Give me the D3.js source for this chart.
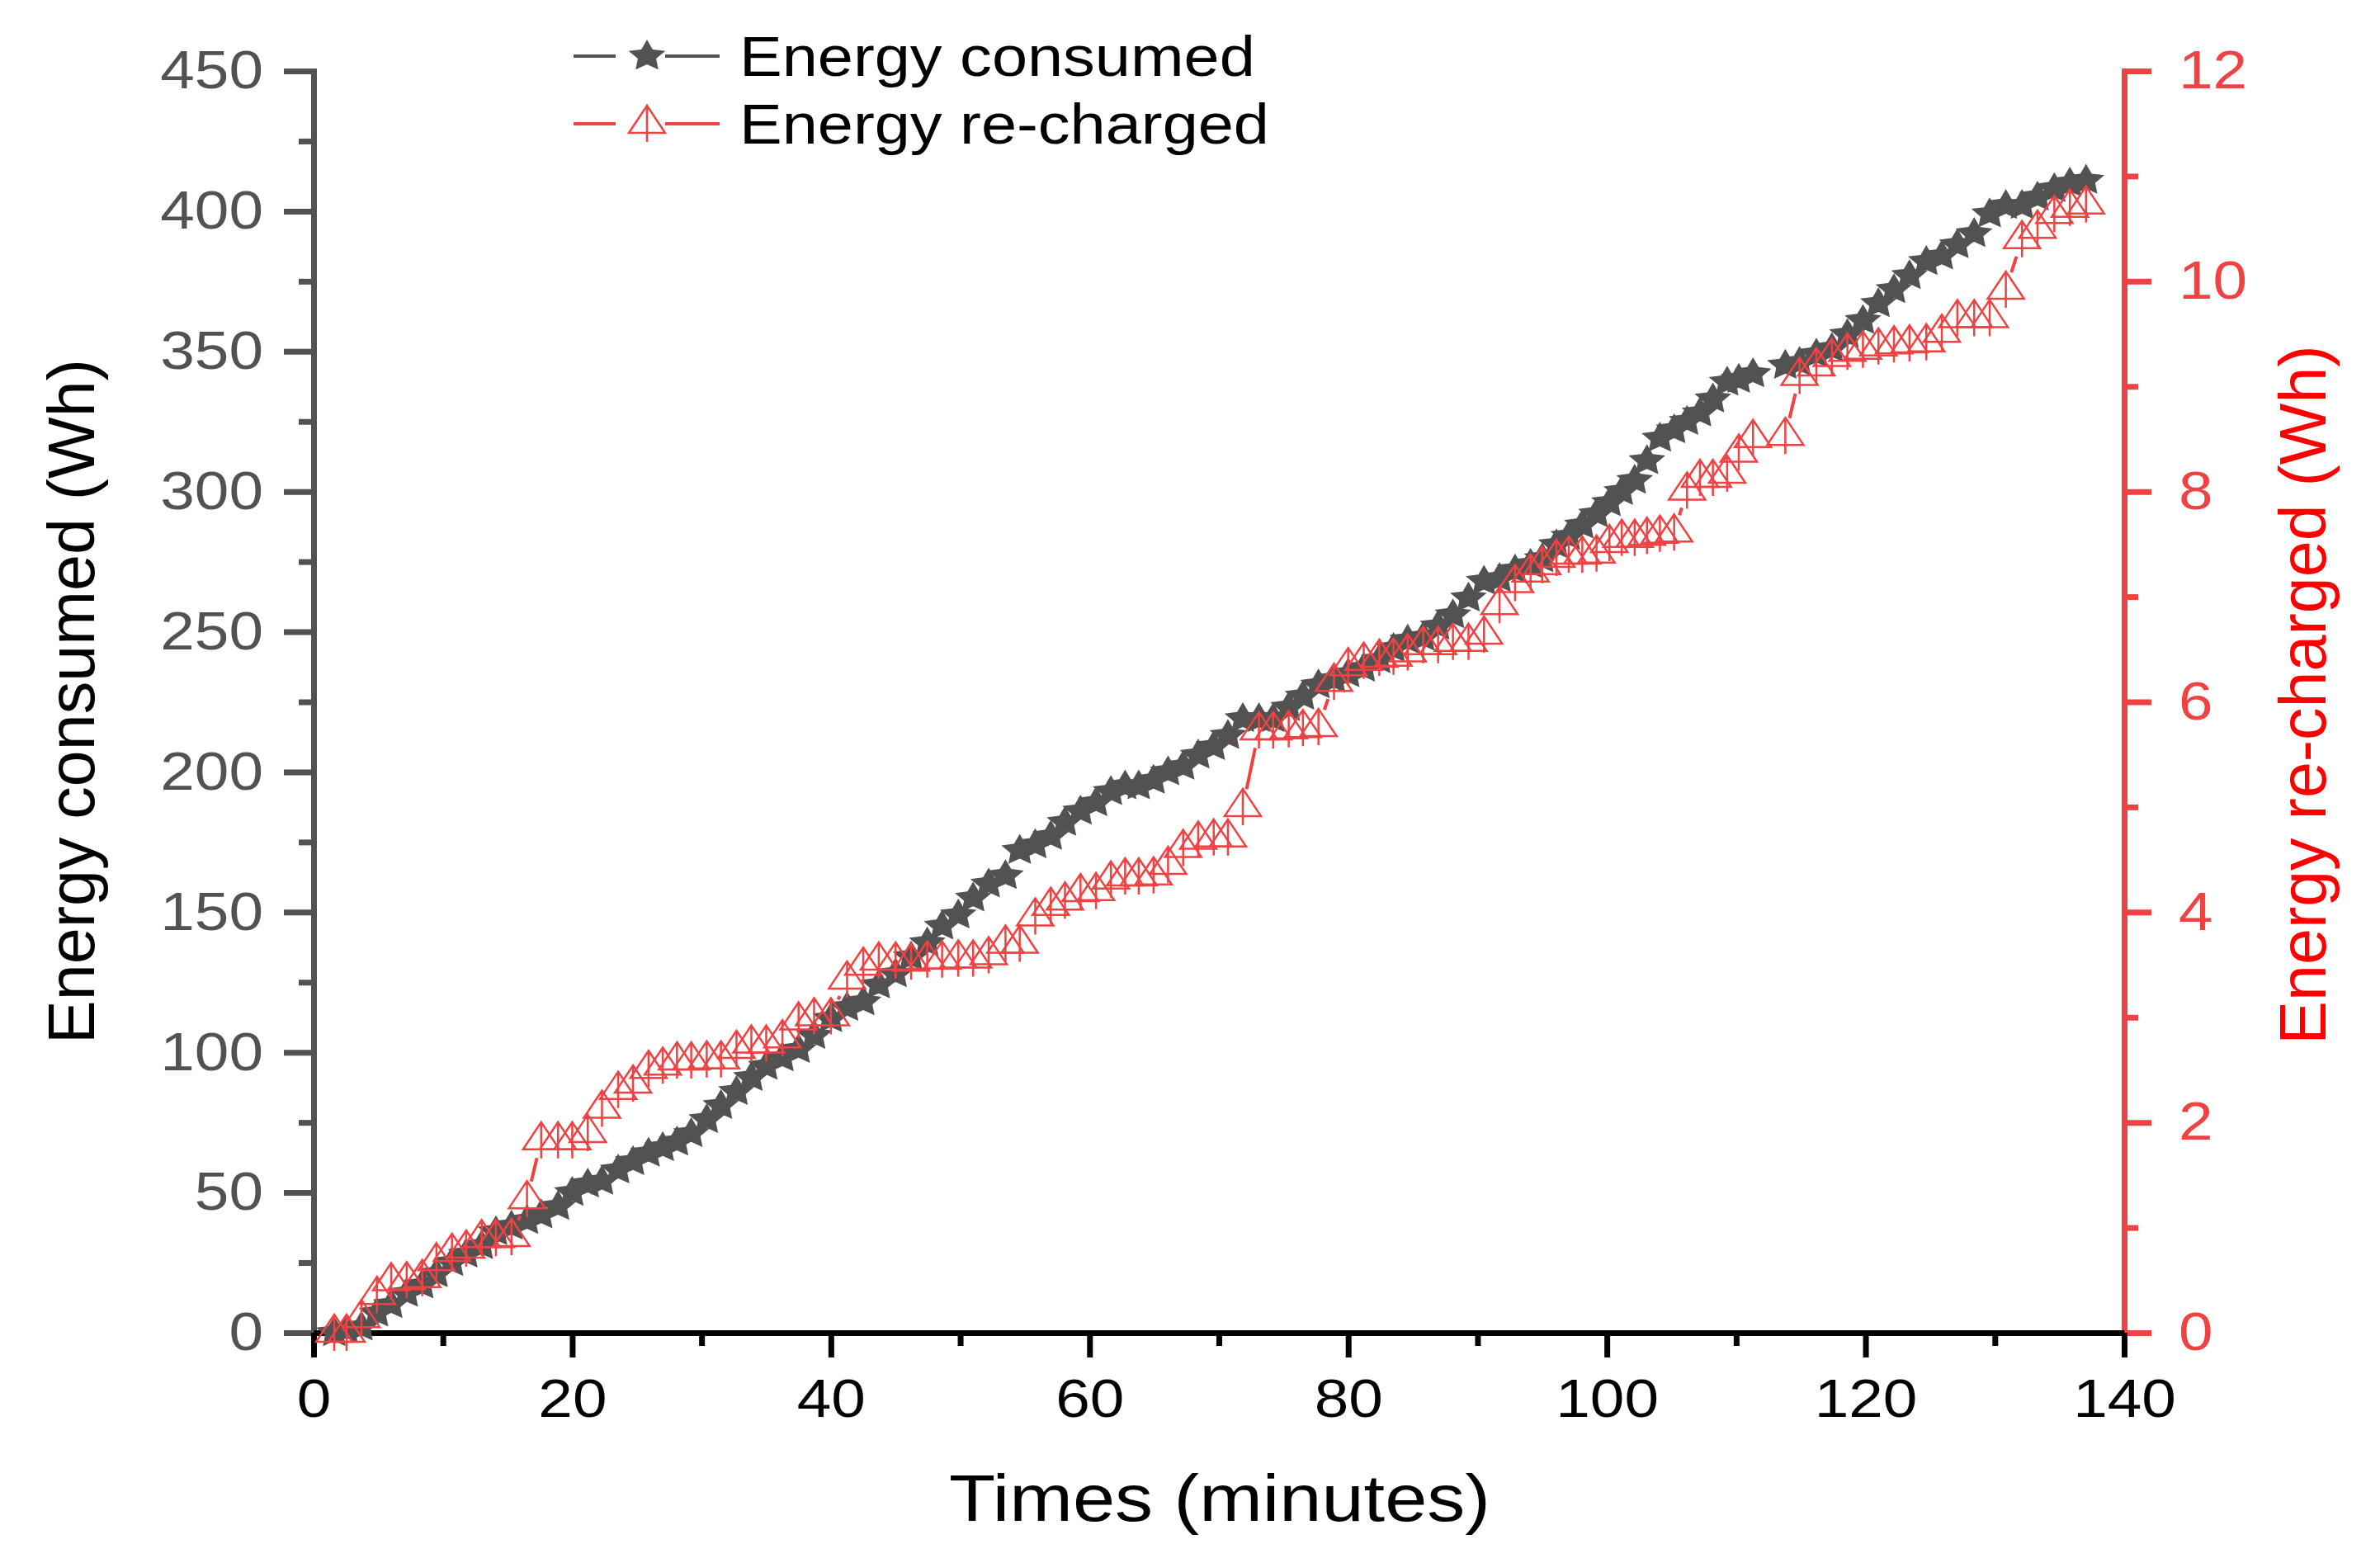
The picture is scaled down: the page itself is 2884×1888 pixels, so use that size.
<!DOCTYPE html>
<html>
<head>
<meta charset="utf-8">
<script src="https://cdn.jsdelivr.net/npm/d3@7"></script>
<style>
  html, body { margin: 0; padding: 0; background: #fff; }
  svg { display: block; }
  text { font-family: "Liberation Sans", Arial, sans-serif; }
</style>
</head>
<body>
<svg id="chart" width="2884" height="1888"></svg>
<script>
// --- Data --------------------------------------------------------------
const times = [
  1.6, 2.55, 3.7, 4.9, 6.0, 7.2, 8.4, 9.5, 10.7, 11.8, 13.0, 14.1, 15.3, 16.5, 17.6, 18.9, 20.0, 21.2, 22.3, 23.55,
  24.7, 25.9, 27.0, 28.1, 29.2, 30.4, 31.5, 32.7, 33.85, 35.0, 36.25, 37.5, 38.7, 40.0, 41.25, 42.5, 43.7, 45.0, 46.2,
  47.45, 48.6, 49.85, 51.0, 52.2, 53.5, 54.6, 55.8, 57.0, 58.1, 59.3, 60.5, 61.65, 62.75, 63.8, 64.95, 66.07, 67.24, 68.4, 69.6,
  70.7, 71.85, 73.1, 74.2, 75.4, 76.5, 77.7, 78.9, 80.0, 81.2, 82.4, 83.5, 84.6, 85.8, 86.95, 88.1, 89.3, 90.5, 91.7, 92.9,
  94.1, 95.0, 96.1, 97.05, 98.1, 99.2, 100.2, 101.15, 102.15, 103.1, 104.1, 105.2, 106.2, 107.2, 108.2, 109.3, 110.2, 111.3, 113.8, 114.9,
  116.2, 117.4, 118.6, 119.8, 121.0, 122.2, 123.4, 124.7, 125.9, 127.1, 128.4, 129.6, 130.85, 132.1, 133.3, 134.6, 135.8, 137.05
];

const energyConsumed = [
  0, 1, 2, 7, 10, 14, 17, 21, 25, 28, 31, 36, 38, 40, 42, 45, 50, 53, 54, 58,
  61, 64, 66, 68, 71, 76, 81, 86, 91, 95, 98, 101, 106, 112, 116, 118, 124, 128, 134,
  139, 145, 149, 155, 160, 163, 172, 174, 177, 182, 186, 189, 193, 195, 195, 197, 200, 202, 206, 209,
  213, 219, 219, 219, 223, 227, 231, 233, 235, 237, 240, 244, 247, 248, 252, 256, 262, 268, 269, 272,
  274, 276, 281, 284, 288, 292, 296, 300, 304, 311, 319, 322, 325, 328, 333, 339, 340, 342, 345, 346,
  349, 351, 356, 361, 367, 372, 377, 382, 384, 388, 392, 399, 402, 402, 405, 408, 410, 411
];

const energyRecharged = [
  0, 0, 0.14, 0.36, 0.49, 0.50, 0.52, 0.68, 0.77, 0.80, 0.90, 0.90, 0.91, 1.27, 1.83, 1.83, 1.83, 1.90, 2.13, 2.31,
  2.37, 2.51, 2.54, 2.59, 2.59, 2.60, 2.60, 2.70, 2.75, 2.75, 2.80, 2.97, 3.01, 3.01, 3.36, 3.49, 3.54, 3.54, 3.53,
  3.55, 3.55, 3.56, 3.56, 3.59, 3.70, 3.70, 3.96, 4.06, 4.11, 4.19, 4.20, 4.31, 4.34, 4.34, 4.35, 4.45, 4.61, 4.69, 4.71,
  4.71, 5.00, 5.73, 5.73, 5.74, 5.75, 5.76, 6.19, 6.34, 6.39, 6.42, 6.43, 6.47, 6.54, 6.54, 6.57, 6.57, 6.64, 6.92, 7.13,
  7.23, 7.30, 7.37, 7.40, 7.40, 7.41, 7.51, 7.56, 7.56, 7.58, 7.60, 7.61, 8.01, 8.13, 8.13, 8.17, 8.37, 8.51, 8.53, 9.10,
  9.19, 9.28, 9.33, 9.35, 9.38, 9.40, 9.41, 9.42, 9.51, 9.65, 9.65, 9.65, 9.92, 10.40, 10.50, 10.64, 10.70, 10.73
];

const xTicks = [0, 20, 40, 60, 80, 100, 120, 140];
const xMinorTicks = [10, 30, 50, 70, 90, 110, 130];
const leftTicks = [0, 50, 100, 150, 200, 250, 300, 350, 400, 450];
const leftMinorTicks = [25, 75, 125, 175, 225, 275, 325, 375, 425];
const rightTicks = [0, 2, 4, 6, 8, 10, 12];
const rightMinorTicks = [1, 3, 5, 7, 9, 11];

const legendLabels = ['Energy consumed', 'Energy re-charged'];

// --- Look ----------------------------------------------------------------
const GREY = '#525252';
const RED = '#f04242';
const SX = 1.15;           // text in the reference is drawn a little wide

const svg = d3.select('#chart');

const x = d3.scaleLinear().domain([0, 140]).range([380, 2574]);
const yL = d3.scaleLinear().domain([0, 450]).range([1615, 86]);
const yR = d3.scaleLinear().domain([0, 12]).range([1615, 86]);

// stretch axis labels horizontally without moving their anchor
function widen(sel) {
  sel.selectAll('text').each(function () {
    const t = d3.select(this);
    const x0 = +t.attr('x') || 0;
    t.attr('x', x0 / SX).attr('transform', `scale(${SX},1)`);
  });
}

function styleAxis(g, color, fontSize) {
  g.select('.domain').attr('stroke', color).attr('stroke-width', 7).attr('stroke-linecap', 'square');
  g.selectAll('.tick line').attr('stroke', color).attr('stroke-width', 7);
  g.selectAll('.tick text').attr('fill', color).style('font-size', fontSize + 'px');
}

// --- Axes ----------------------------------------------------------------
const gLeft = svg.append('g').attr('transform', `translate(${x(0)},0)`);
gLeft.append('g')
  .call(d3.axisLeft(yL).tickValues(leftMinorTicks).tickSize(18).tickFormat(''))
  .call(g => { g.select('.domain').remove(); g.selectAll('line').attr('stroke', GREY).attr('stroke-width', 7); });
gLeft.append('g')
  .call(d3.axisLeft(yL).tickValues(leftTicks).tickSize(36).tickSizeOuter(0).tickPadding(25))
  .call(g => styleAxis(g, GREY, 65))
  .call(widen);

const gRight = svg.append('g').attr('transform', `translate(${x(140)},0)`);
gRight.append('g')
  .call(d3.axisRight(yR).tickValues(rightMinorTicks).tickSize(17).tickFormat(''))
  .call(g => { g.select('.domain').remove(); g.selectAll('line').attr('stroke', RED).attr('stroke-width', 7); });
gRight.append('g')
  .call(d3.axisRight(yR).tickValues(rightTicks).tickSize(33).tickSizeOuter(0).tickPadding(33))
  .call(g => styleAxis(g, RED, 65))
  .call(widen);

const gBottom = svg.append('g').attr('transform', `translate(0,${yL(0)})`);
gBottom.append('g')
  .call(d3.axisBottom(x).tickValues(xMinorTicks).tickSize(16).tickFormat(''))
  .call(g => { g.select('.domain').remove(); g.selectAll('line').attr('stroke', '#000').attr('stroke-width', 7); });
gBottom.append('g')
  .call(d3.axisBottom(x).tickValues(xTicks).tickSize(30).tickSizeOuter(0).tickPadding(26))
  .call(g => styleAxis(g, '#000', 65))
  .call(g => g.select('.domain').attr('stroke-linecap', 'butt'))
  .call(widen);

// --- Axis titles ---------------------------------------------------------
svg.append('text')
  .attr('transform', `translate(1478,1843) scale(${SX},1)`)
  .attr('text-anchor', 'middle')
  .style('font-size', '80px')
  .attr('fill', '#000')
  .text('Times (minutes)');

svg.append('text')
  .attr('transform', 'translate(114,850) rotate(-90)')
  .attr('text-anchor', 'middle')
  .style('font-size', '79px')
  .attr('fill', '#000')
  .text('Energy consumed (Wh)');

svg.append('text')
  .attr('transform', 'translate(2818,842) rotate(-90)')
  .attr('text-anchor', 'middle')
  .style('font-size', '79px')
  .attr('fill', '#ff0000')
  .text('Energy re-charged (Wh)');

// --- Symbols -------------------------------------------------------------
function starPath(R) {
  const pts = [];
  for (let i = 0; i < 10; i++) {
    const a = -Math.PI / 2 + i * Math.PI / 5;
    const r = i % 2 === 0 ? R : R * 0.5;
    pts.push([Math.cos(a) * r * 1.17, Math.sin(a) * r]);
  }
  return 'M' + pts.map(p => p[0].toFixed(2) + ',' + p[1].toFixed(2)).join('L') + 'Z';
}
const STAR = starPath(20);
// hollow triangle centred on its centroid, with a vertical stroke through it
const TRI = 'M0,-22L22,11L-22,11Z M0,-22L0,22';

// connecting line, broken around each symbol
function gappedSegments(pts, gap) {
  const segs = [];
  for (let i = 0; i < pts.length - 1; i++) {
    const [x0, y0] = pts[i], [x1, y1] = pts[i + 1];
    const dx = x1 - x0, dy = y1 - y0, len = Math.hypot(dx, dy);
    if (len <= 2 * gap) continue;
    const ux = dx / len, uy = dy / len;
    segs.push([x0 + ux * gap, y0 + uy * gap, x1 - ux * gap, y1 - uy * gap]);
  }
  return segs;
}

const consumedPts = times.map((t, i) => [x(t), yL(energyConsumed[i])]);
const rechargedPts = times.map((t, i) => [x(t), yR(energyRecharged[i])]);

const plot = svg.append('g');

plot.selectAll('line.consumed')
  .data(gappedSegments(consumedPts, 20))
  .join('line')
  .attr('class', 'consumed')
  .attr('x1', d => d[0]).attr('y1', d => d[1]).attr('x2', d => d[2]).attr('y2', d => d[3])
  .attr('stroke', GREY).attr('stroke-width', 4);

plot.selectAll('path.star')
  .data(consumedPts)
  .join('path')
  .attr('class', 'star')
  .attr('d', STAR)
  .attr('transform', d => `translate(${d[0]},${d[1]})`)
  .attr('fill', GREY);

plot.selectAll('line.recharged')
  .data(gappedSegments(rechargedPts, 22))
  .join('line')
  .attr('class', 'recharged')
  .attr('x1', d => d[0]).attr('y1', d => d[1]).attr('x2', d => d[2]).attr('y2', d => d[3])
  .attr('stroke', RED).attr('stroke-width', 4);

plot.selectAll('path.tri')
  .data(rechargedPts)
  .join('path')
  .attr('class', 'tri')
  .attr('d', TRI)
  .attr('transform', d => `translate(${d[0]},${d[1]})`)
  .attr('fill', 'none')
  .attr('stroke', RED)
  .attr('stroke-width', 2.5);

// --- Legend --------------------------------------------------------------
const legend = svg.append('g');
const legendRows = [
  { label: legendLabels[0], color: GREY, shape: STAR, y: 68, filled: true },
  { label: legendLabels[1], color: RED, shape: TRI, y: 150, filled: false }
];
legendRows.forEach(r => {
  legend.append('line').attr('x1', 695).attr('x2', 746).attr('y1', r.y).attr('y2', r.y)
    .attr('stroke', r.color).attr('stroke-width', 4);
  legend.append('line').attr('x1', 806).attr('x2', 872).attr('y1', r.y).attr('y2', r.y)
    .attr('stroke', r.color).attr('stroke-width', 4);
  legend.append('path')
    .attr('d', r.shape)
    .attr('transform', `translate(784,${r.y})`)
    .attr('fill', r.filled ? r.color : 'none')
    .attr('stroke', r.filled ? 'none' : r.color)
    .attr('stroke-width', 2.5);
  legend.append('text')
    .attr('transform', `translate(896,${r.y + 23.5}) scale(1.14,1)`)
    .style('font-size', '68px')
    .attr('fill', '#000')
    .text(r.label);
});
</script>
</body>
</html>
